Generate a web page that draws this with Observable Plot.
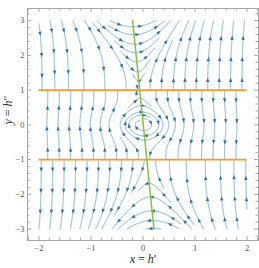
<!DOCTYPE html>
<html><head><meta charset="utf-8">
<script src="https://cdn.jsdelivr.net/npm/d3@7"></script>
<script src="https://cdn.jsdelivr.net/npm/@observablehq/plot@0.6"></script>
<style>body{margin:0;background:#fff}svg{display:block}</style>
</head><body><div id="chart"></div>
<script>
// ---- data ----
const xTicks = [-2, -1, 0, 1, 2];
const yTicks = [-3, -2, -1, 0, 1, 2, 3];
const streamX = [-2, 2];          // stream region
const streamY = [-3, 3];
const orangeY = [1, -1];          // horizontal orange lines
const orangeX = [-2, 2];
const greenX = [-0.2, 0.21];      // tilted green line
const greenY = [3, -3];
const loopSeedsY = [0.18, 0.37, 0.56, 0.77];  // closed orbits crossing x = 0
// vector field parameters (h'' , h''' shape)
const tilt = 0.068, outerGain = 37, innerPow = 3.5, cubic = 0.77;

// ---- layout ----
const W = 259, H = 268, mL = 27, mR = 1, mT = 8, mB = 28;
const xDom = [-2.22, 2.22], yDom = [-3.33, 3.35];
const innerW = W - mL - mR, innerH = H - mT - mB;
const kx = innerW / (xDom[1] - xDom[0]), ky = innerH / (yDom[1] - yDom[0]);

function field(x, y) {
  const s = x + tilt * y;
  const f = s + cubic * s * s * s;
  const q = y * y - 1;
  const G = q > 0 ? outerGain / q : -1 / Math.pow(-q, innerPow);
  return [y, f * G];
}
const region = y => (y > 1 ? 2 : y < -1 ? 0 : 1);
const inDomain = (x, y) => x >= streamX[0] && x <= streamX[1] && y >= streamY[0] && y <= streamY[1];

// ---- evenly spaced streamlines ----
const dsep = 0.22, dtest = 0.1, h = 0.01;
const grid = new Map();
function gAdd(g, p) {
  const k = Math.floor(p[0] / dsep) + "," + Math.floor(p[1] / dsep);
  let a = g.get(k); if (!a) { a = []; g.set(k, a); } a.push(p);
}
function gMin(g, x, y, skip) {
  const i0 = Math.floor(x / dsep), j0 = Math.floor(y / dsep); let m = Infinity;
  for (let i = i0 - 1; i <= i0 + 1; i++) for (let j = j0 - 1; j <= j0 + 1; j++) {
    const a = g.get(i + "," + j); if (!a) continue;
    for (const p of a) { if (skip(p)) continue; const dx = p[0] - x, dy = p[1] - y, d = dx * dx + dy * dy; if (d < m) m = d; }
  }
  return Math.sqrt(m);
}
function trace(x0, y0, sep) {
  const reg = region(y0);
  const own = new Map();
  const lag = Math.ceil(3 * dsep / h);
  gAdd(own, [x0, y0, 0]);
  const otherReg = p => p[2] !== reg;
  function half(sign) {
    const pts = []; let x = x0, y = y0;
    for (let n = 1; n < 4000; n++) {
      const [u, v] = field(x, y); const L = Math.hypot(u, v); if (!(L > 0)) break;
      const xm = x + sign * 0.5 * h * u / L, ym = y + sign * 0.5 * h * v / L;
      let nx, ny;
      if (region(ym) !== reg) { nx = xm; ny = ym; }
      else { const [u2, v2] = field(xm, ym); const L2 = Math.hypot(u2, v2); nx = x + sign * h * u2 / L2; ny = y + sign * h * v2 / L2; }
      if (region(ny) !== reg) {
        const b = (reg === 2 || (reg === 1 && ny > 1)) ? 1 : -1;
        const t = (b - y) / (ny - y); pts.push([x + t * (nx - x), b]); break;
      }
      if (!inDomain(nx, ny)) break;
      if (gMin(grid, nx, ny, otherReg) < sep) break;
      const idx = sign * n;
      if (gMin(own, nx, ny, p => Math.abs(p[2] - idx) < lag) < sep) break;
      pts.push([nx, ny]); gAdd(own, [nx, ny, idx]);
      x = nx; y = ny;
    }
    return pts;
  }
  const f = half(1), b = half(-1);
  const pts = b.reverse().concat([[x0, y0]], f);
  if (pts.length < 15) return null;
  pts.forEach((p, i) => { if (i % 2 === 0 || i === pts.length - 1) gAdd(grid, [p[0], p[1], reg]); });
  return pts;
}
const lines = [], queue = [];
function trySeed(x, y, minD = dsep * 0.97, sep = dtest) {
  if (!inDomain(x, y) || Math.abs(Math.abs(y) - 1) < 0.02) return;
  const r = region(y);
  if (gMin(grid, x, y, p => p[2] !== r) < minD) return;
  const L = trace(x, y, sep); if (L) { lines.push(L); queue.push(L); }
}
// closed orbits around the centre first
loopSeedsY.forEach(y => trySeed(-tilt * y, y, 0.12, 0.07));
function drain() {
  while (queue.length) {
    const L = queue.shift();
    for (let i = 0; i < L.length; i += 6) {
      const [x, y] = L[i]; const [u, v] = field(x, y); const n = Math.hypot(u, v); if (!(n > 0)) continue;
      const px = -v / n, py = u / n;
      trySeed(x + px * dsep, y + py * dsep);
      trySeed(x - px * dsep, y - py * dsep);
    }
  }
}
drain();
for (let y = streamY[0]; y <= streamY[1]; y += 0.06) for (let x = streamX[0]; x <= streamX[1]; x += 0.06) { trySeed(x, y); drain(); }

// ---- build mark data ----
const lineData = [], arrows = [];
lines.forEach((L, id) => {
  L.forEach(p => lineData.push({x: p[0], y: p[1], id}));
  let s = 0; const cum = [0];
  for (let i = 1; i < L.length; i++) { s += Math.hypot((L[i][0] - L[i - 1][0]) * kx, (L[i][1] - L[i - 1][1]) * ky); cum.push(s); }
  const targets = [];
  if (s < 14) targets.push(s / 2); else for (let t = 10; t < s - 4; t += 21) targets.push(t);
  let j = 1;
  for (const t of targets) {
    while (j < L.length - 1 && cum[j] < t) j++;
    const a = L[j - 1], b = L[j];
    const dx = (b[0] - a[0]) * kx, dy = -(b[1] - a[1]) * ky;
    arrows.push({x: b[0], y: b[1], a: Math.atan2(dx, -dy) * 180 / Math.PI});
  }
});
const arrowShape = {draw(ctx, l) { const w = l * 0.4; ctx.moveTo(0, -l); ctx.lineTo(w, 0); ctx.lineTo(-w, 0); ctx.closePath(); }};

const xMinor = d3.range(-2.2, 2.21, 0.2).map(v => Math.round(v * 10) / 10).filter(v => !Number.isInteger(v));
const yMinor = d3.range(-3.2, 3.21, 0.2).map(v => Math.round(v * 10) / 10).filter(v => !Number.isInteger(v));
const fmt = d => (d < 0 ? "\u2212" + (-d) : String(d));
const tickC = "#a8a8a8", serif = "Liberation Serif, DejaVu Serif, serif";
const greenData = greenX.map((x, i) => ({x, y: greenY[i]}));

const plot = Plot.plot({
  width: W, height: H, marginLeft: mL, marginRight: mR, marginTop: mT, marginBottom: mB,
  x: {domain: xDom, axis: null}, y: {domain: yDom, axis: null},
  style: {background: "#fff"},
  marks: [
    Plot.line(lineData, {x: "x", y: "y", z: "id", stroke: "#6aa6d6", strokeWidth: 0.9}),
    Plot.vector(arrows, {x: "x", y: "y", rotate: "a", length: 4.2, shape: arrowShape, anchor: "middle", fill: "#2f6fa6", stroke: "none"}),
    Plot.ruleY(orangeY, {y: d => d, x1: orangeX[0], x2: orangeX[1], stroke: "#fb9a2a", strokeWidth: 1.8}),
    Plot.line(greenData, {x: "x", y: "y", stroke: "#84c240", strokeWidth: 1.5}),
    Plot.frame({stroke: tickC}),
    Plot.ruleX(xTicks, {x: d => d, insetTop: innerH - 4, stroke: tickC}),
    Plot.ruleX(xTicks, {x: d => d, insetBottom: innerH - 4, stroke: tickC}),
    Plot.ruleX(xMinor, {x: d => d, insetTop: innerH - 2.5, stroke: tickC}),
    Plot.ruleX(xMinor, {x: d => d, insetBottom: innerH - 2.5, stroke: tickC}),
    Plot.ruleY(yTicks, {y: d => d, insetRight: innerW - 4, stroke: tickC}),
    Plot.ruleY(yTicks, {y: d => d, insetLeft: innerW - 4, stroke: tickC}),
    Plot.ruleY(yMinor, {y: d => d, insetRight: innerW - 2.5, stroke: tickC}),
    Plot.ruleY(yMinor, {y: d => d, insetLeft: innerW - 2.5, stroke: tickC}),
    Plot.text(xTicks, {x: d => d, frameAnchor: "bottom", dy: 10, text: fmt, fontSize: 8.5, fontFamily: serif, fill: "#555"}),
    Plot.text(yTicks, {y: d => d, frameAnchor: "left", dx: -3, textAnchor: "end", text: fmt, fontSize: 8.5, fontFamily: serif, fill: "#555"}),
    Plot.text(["x = h\u2032"], {frameAnchor: "bottom", dy: 22, fontSize: 12, fontFamily: serif, fill: "#222"}),
    Plot.text(["y = h\u2033"], {frameAnchor: "left", dx: -19, rotate: -90, fontSize: 12, fontFamily: serif, fill: "#222"})
  ]
});
plot.querySelectorAll("text").forEach(t => {
  if (t.textContent === "x = h\u2032") t.innerHTML = '<tspan font-style="italic">x</tspan> = <tspan font-style="italic">h</tspan>\u2032';
  if (t.textContent === "y = h\u2033") t.innerHTML = '<tspan font-style="italic">y</tspan> = <tspan font-style="italic">h</tspan>\u2033';
});
document.getElementById("chart").appendChild(plot);
</script>
</body></html>
